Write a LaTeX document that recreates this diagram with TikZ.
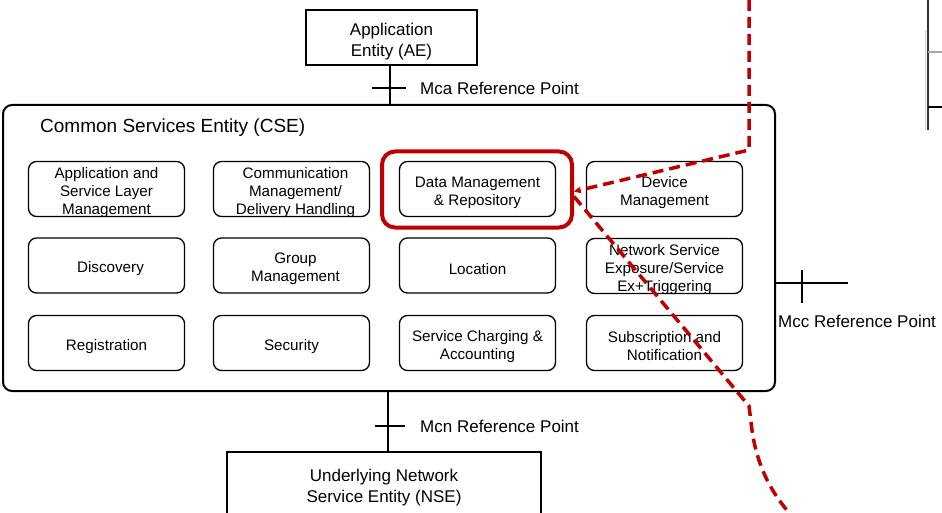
\documentclass[tikz,border=0pt]{standalone}
\usepackage{fontspec}
\setmainfont{Liberation Sans}
\usetikzlibrary{arrows.meta}
\definecolor{dred}{RGB}{192,0,0}
\begin{document}
\begin{tikzpicture}[x=1pt,y=-1pt,
 svct/.style={align=center,font=\fontsize{15.2}{18}\selectfont,inner sep=0pt,yshift=-3.5pt},
 svcbox/.style={draw,rounded corners=8pt,line width=1.3pt,minimum width=156pt,minimum height=55pt,inner sep=0pt},
 svc/.style={svcbox,label={[svct]center:{#1}}},
 svcx/.style 2 args={svcbox,label={[svct,xshift=#2]center:{#1}}},
 entt/.style={align=center,font=\fontsize{17}{21}\selectfont,inner sep=0pt,yshift=-4pt},
 ent/.style={draw,line width=1.8pt,inner sep=0pt,label={[entt]center:{#1}}},
 lbl/.style={anchor=west,font=\fontsize{17}{20}\selectfont,inner sep=0pt},
 refl/.style={line width=1.5pt},
 reddash/.style={draw=dred,line width=3.5pt,dash pattern=on 11pt off 6pt}]
\useasboundingbox (0,0) rectangle (942,513);
% entities
\node[ent={Application\\Entity (AE)},minimum width=171pt,minimum height=55pt] (ae) at (391.5,37.5) {};
\node[draw,line width=2pt,rounded corners=9pt,minimum width=772pt,minimum height=286pt,inner sep=0pt] (cse) at (389,248) {};
\node[anchor=west,font=\fontsize{19}{22}\selectfont,inner sep=0pt] (csel) at (40,127.5) {Common Services Entity (CSE)};
\node[ent={Underlying Network\\Service Entity (NSE)},minimum width=314pt,minimum height=64pt] (nse) at (384,484) {};
% services
\node[svc={Application and\\Service Layer\\Management}] (asl) at (106.5,189) {};
\node[svcx={Communication\\Management/\\Delivery Handling}{4pt}] (cmdh) at (291.5,189) {};
\node[svc={Data Management\\\& Repository}] (dmr) at (477.5,189) {};
\node[svc={Device\\Management}] (dm) at (664.5,189) {};
\node[svcx={Discovery}{4pt}] (disc) at (106.5,265.5) {};
\node[svcx={Group\\Management}{4pt}] (gm) at (291.5,265.5) {};
\node[svc={Location}] (loc) at (477.5,265.5) {};
\node[svc={Network Service\\Exposure/Service\\Ex+Triggering}] (nse2) at (664.5,266) {};
\node[svc={Registration}] (reg) at (106.5,343) {};
\node[svc={Security}] (sec) at (291.5,343) {};
\node[svc={Service Charging \&\\Accounting}] (scha) at (477.5,343) {};
\node[svc={Subscription and\\Notification}] (sub) at (664.5,343) {};
% reference points
\coordinate (mcaTop) at (390,65);
\coordinate (mcaBot) at (390,105);
\draw[refl] (ae.south -| mcaTop) -- (cse.north -| mcaBot);
\coordinate (mcaT) at (390,88);
\draw[refl] ([xshift=-18pt]mcaT) -- ([xshift=16pt]mcaT);
\node[lbl] (mcal) at (420,88) {Mca Reference Point};
\coordinate (mcnT) at (388,426);
\draw[refl] (cse.south -| mcnT) -- (nse.north -| mcnT);
\draw[refl] ([xshift=-13pt]mcnT) -- ([xshift=17pt]mcnT);
\node[lbl] (mcnl) at (420,426) {Mcn Reference Point};
\coordinate (mccEnd) at (848,283);
\draw[refl] (cse.east |- mccEnd) -- (mccEnd);
\coordinate (mccT) at (802,283);
\draw[refl] ([yshift=13pt]mccT) -- ([yshift=-20pt]mccT);
\node[lbl] (mccl) at (778,321) {Mcc Reference Point};
% right edge fragment
\coordinate (fa) at (928,0);
\coordinate (fb) at (928,130);
\draw[gray!40,line width=1pt] (925,30) -- (925,130);
\draw[line width=1.2pt,black!80] (fa) -- (fb);
\draw[line width=1.5pt,gray!70] (928,52) -- (942,52);
\draw[line width=1.5pt] (928,107) -- (942,107);
% highlight
\node[draw=dred,line width=4pt,rounded corners=13pt,minimum width=190pt,minimum height=76pt,inner sep=0pt] (hl) at (477,189.5) {};
\coordinate (rtop) at (749,0);
\coordinate (rcorner) at (749,150);
\draw[reddash,-{Stealth[length=7pt,width=7pt]}] (rtop) -- (rcorner) -- ([yshift=-2pt]hl.east);
\coordinate (rkink) at (749,406);
\coordinate (rend) at (792,516);
\draw[reddash] ([yshift=-7pt]hl.east) -- (rkink) -- (751,422) .. controls (755,462) and (770,492) .. (rend);
\end{tikzpicture}
\end{document}
